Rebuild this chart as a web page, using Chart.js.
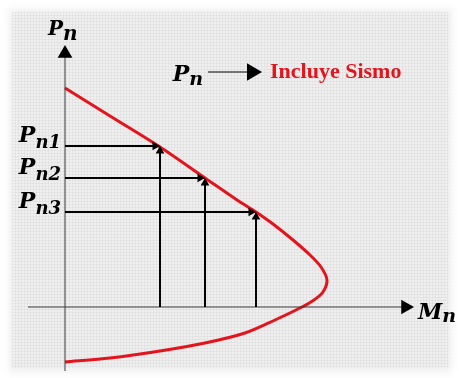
<!DOCTYPE html>
<html>
<head>
<meta charset="utf-8">
<script src="https://cdn.jsdelivr.net/npm/chart.js@4"></script>
<style>
html,body{margin:0;padding:0;background:#fff;}
canvas{display:block;}
</style>
</head>
<body>
<canvas id="c" width="459" height="378"></canvas>
<script>
// Interaction curve (M, P), top to bottom
const curveM = [0, 4.5, 9.5, 14.0, 17.2, 19.1, 20.8, 22.8, 24.5, 25.6, 26.2, 25.8, 24.9, 23.7, 21.0, 18.0, 14.0, 9.5, 4.5, 0];
const curveP = [21.9, 19.1, 16.0, 12.9, 10.7, 9.5, 8.3, 6.7, 5.2, 4.0, 2.7, 1.5, 0.7, 0, -1.3, -2.6, -3.6, -4.4, -5.1, -5.5];
// Load levels Pn1, Pn2, Pn3 and the moment where each meets the curve
const levelNames = ['n1', 'n2', 'n3'];
const levelP = [16.1, 12.9, 9.5];
const levelM = [9.5, 14.0, 19.1];
// Axes extents
const axisPRange = [-6.4, 25.35];
const axisMRange = [-3.7, 34.05];
// Legend arrow "Pn -> Incluye Sismo"
const legendM = [14.3, 18.7];
const legendP = 23.5;
const legendText = 'Incluye Sismo';

const RED = '#e3141c';
const datasets = [];
datasets.push({
  data: curveM.map((m, i) => ({x: m, y: curveP[i]})),
  borderColor: RED, borderWidth: 3, pointRadius: 0, tension: 0.3, showLine: true, order: 5
});
datasets.push({
  data: [{x: 0, y: axisPRange[0]}, {x: 0, y: axisPRange[1]}],
  borderColor: '#3a3a3a', borderWidth: 1, showLine: true, order: 1,
  pointRadius: [0, 8.5], pointStyle: 'triangle', rotation: 0,
  pointBackgroundColor: '#000', pointBorderWidth: 0
});
datasets.push({
  data: [{x: axisMRange[0], y: 0}, {x: axisMRange[1], y: 0}],
  borderColor: '#3a3a3a', borderWidth: 1, showLine: true, order: 1,
  pointRadius: [0, 8.5], pointStyle: 'triangle', rotation: 90,
  pointBackgroundColor: '#000', pointBorderWidth: 0
});
levelP.forEach((p, i) => {
  datasets.push({
    data: [{x: 0, y: p}, {x: levelM[i] - 0.5, y: p}],
    borderColor: '#000', borderWidth: 2, showLine: true, order: 0,
    pointRadius: [0, 5], pointStyle: 'triangle', rotation: 90,
    pointBackgroundColor: '#000', pointBorderWidth: 0
  });
  datasets.push({
    data: [{x: levelM[i], y: 0}, {x: levelM[i], y: p - 0.5}],
    borderColor: '#000', borderWidth: 2, showLine: true, order: 0,
    pointRadius: [0, 5], pointStyle: 'triangle', rotation: 0,
    pointBackgroundColor: '#000', pointBorderWidth: 0
  });
});
datasets.push({
  data: [{x: legendM[0], y: legendP}, {x: legendM[1], y: legendP}],
  borderColor: '#000', borderWidth: 1, showLine: true, order: 0,
  pointRadius: [0, 10], pointStyle: 'triangle', rotation: 90,
  pointBackgroundColor: '#000', pointBorderWidth: 0
});

const MATH = 'italic bold ';
const FAM = '"DejaVu Serif", serif';

function drawSym(ctx, x, y, main, sub, mainSize, subSize, subDy, align) {
  ctx.font = MATH + mainSize + 'px ' + FAM;
  const w1 = ctx.measureText(main).width;
  ctx.font = MATH + subSize + 'px ' + FAM;
  const w2 = ctx.measureText(sub).width;
  let x0 = align === 'right' ? x - w1 - w2 : x;
  ctx.fillStyle = '#000';
  ctx.textAlign = 'left';
  ctx.textBaseline = 'alphabetic';
  ctx.font = MATH + mainSize + 'px ' + FAM;
  ctx.fillText(main, x0, y);
  ctx.font = MATH + subSize + 'px ' + FAM;
  ctx.fillText(sub, x0 + w1, y + subDy);
  return x0;
}

const bgPlugin = {
  id: 'bg',
  beforeDraw(chart) {
    const ctx = chart.ctx;
    ctx.save();
    ctx.fillStyle = '#fff';
    ctx.fillRect(0, 0, chart.width, chart.height);
    ctx.filter = 'blur(4px)';
    ctx.fillStyle = '#efefef';
    ctx.fillRect(9, 9, chart.width - 16, chart.height - 15);
    ctx.filter = 'none';
    // faint canvas texture
    ctx.globalAlpha = 0.035;
    ctx.strokeStyle = '#000';
    ctx.lineWidth = 1;
    for (let x = 12; x < chart.width - 10; x += 3) {
      ctx.beginPath(); ctx.moveTo(x + 0.5, 12); ctx.lineTo(x + 0.5, chart.height - 10); ctx.stroke();
    }
    for (let y = 12; y < chart.height - 10; y += 3) {
      ctx.beginPath(); ctx.moveTo(12, y + 0.5); ctx.lineTo(chart.width - 10, y + 0.5); ctx.stroke();
    }
    ctx.restore();
  }
};

const labelPlugin = {
  id: 'labels',
  afterDatasetsDraw(chart) {
    const ctx = chart.ctx;
    const xs = chart.scales.x, ys = chart.scales.y;
    ctx.save();
    const x0 = xs.getPixelForValue(0);
    // vertical axis label
    const topY = ys.getPixelForValue(axisPRange[1]) - 8.5;
    drawSym(ctx, x0 - 17, topY - 10, 'P', 'n', 20, 20, 5, 'left');
    // horizontal axis label
    const rightX = xs.getPixelForValue(axisMRange[1]) + 8.5;
    const y0 = ys.getPixelForValue(0);
    drawSym(ctx, rightX + 4, y0 + 12, 'M', 'n', 22, 19, 3, 'left');
    // load level labels
    levelP.forEach((p, i) => {
      const yp = ys.getPixelForValue(p);
      drawSym(ctx, x0 - 4, yp - 4, 'P', levelNames[i], 22, 18, 6, 'right');
    });
    // legend
    const lx = xs.getPixelForValue(legendM[0]);
    const ly = ys.getPixelForValue(legendP);
    drawSym(ctx, lx - 5, ly + 9, 'P', 'n', 22, 19, 4, 'right');
    const tx = xs.getPixelForValue(legendM[1]) + 10 + 8;
    ctx.font = 'bold 22px "Liberation Serif", "Times New Roman", serif';
    ctx.fillStyle = RED;
    ctx.textAlign = 'left';
    ctx.fillText(legendText, tx, ly + 6);
    ctx.restore();
  }
};

new Chart(document.getElementById('c'), {
  type: 'scatter',
  data: {datasets},
  options: {
    responsive: false,
    animation: false,
    events: [],
    layout: {padding: 0, autoPadding: false},
    plugins: {legend: {display: false}, tooltip: {enabled: false}},
    scales: {
      x: {type: 'linear', display: false, min: -6.5, max: 39.4},
      y: {type: 'linear', display: false, min: -7.1, max: 30.7}
    }
  },
  plugins: [bgPlugin, labelPlugin]
});
</script>
</body>
</html>
